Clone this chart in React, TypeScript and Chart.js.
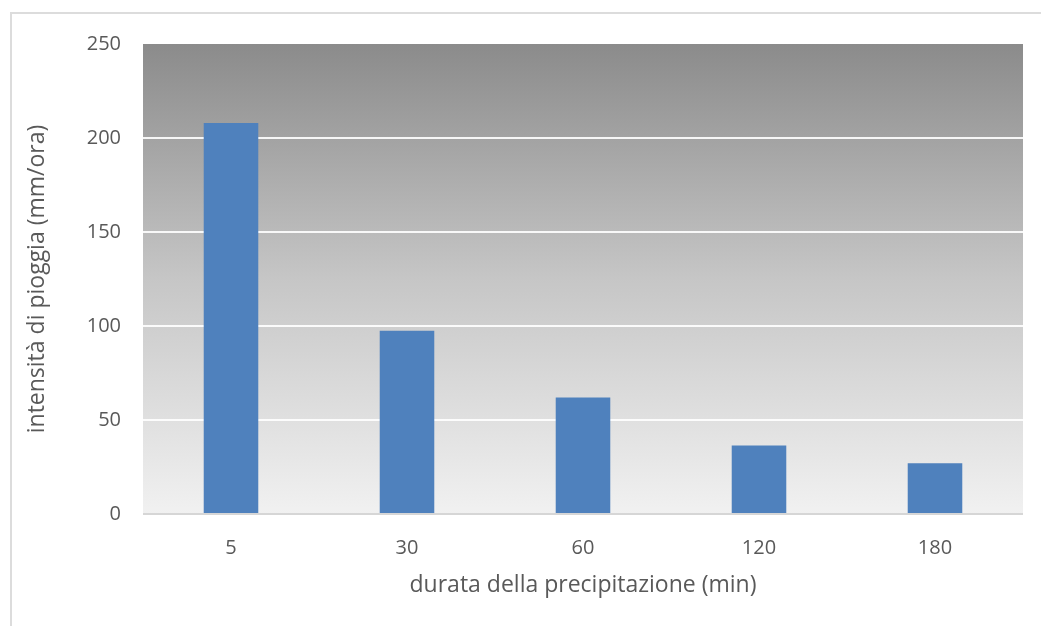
import React, { useEffect, useRef } from "react";
import { Chart, registerables } from "chart.js";

Chart.register(...registerables);

// Rain intensity by storm duration
const durations = ["5", "30", "60", "120", "180"];
const intensities = [208, 97.5, 62, 36.5, 27];
const yTicks = [0, 50, 100, 150, 200, 250];

const xTitle = "durata della precipitazione (min)";
const yTitle = "intensità di pioggia (mm/ora)";

const FONT = "'Open Sans', 'Liberation Sans', sans-serif";
const TEXT = "#595959";

// paints the grey vertical gradient behind the plot area
const plotBackground = {
  id: "plotBackground",
  beforeDraw(chart: any) {
    const { ctx, chartArea } = chart;
    if (!chartArea) return;
    const { left, top, right, bottom } = chartArea;
    const g = ctx.createLinearGradient(0, top, 0, bottom);
    g.addColorStop(0, "#8b8b8b");
    g.addColorStop(0.5, "#c6c6c6");
    g.addColorStop(1, "#f1f1f1");
    ctx.save();
    ctx.fillStyle = g;
    ctx.fillRect(left, top, right - left, bottom - top);
    ctx.restore();
  },
};

export default function App() {
  const ref = useRef<HTMLCanvasElement | null>(null);

  useEffect(() => {
    if (!ref.current) return;
    const chart = new Chart(ref.current, {
      type: "bar",
      data: {
        labels: durations,
        datasets: [
          {
            data: intensities,
            backgroundColor: "#4f81bd",
            borderWidth: 0,
            barPercentage: 0.31,
            categoryPercentage: 1,
          },
        ],
      },
      options: {
        animation: false,
        responsive: false,
        layout: { padding: { left: 20, right: 18, top: 44, bottom: 23 } },
        plugins: { legend: { display: false }, tooltip: { enabled: false } },
        scales: {
          x: {
            grid: { display: false },
            border: { display: false },
            ticks: { color: TEXT, font: { family: FONT, size: 20 }, padding: 14 },
            title: {
              display: true,
              text: xTitle,
              color: TEXT,
              font: { family: FONT, size: 23 },
              padding: { top: 6 },
            },
            afterFit(scale: any) {
              scale.height = 89;
            },
          },
          y: {
            min: 0,
            max: 250,
            afterBuildTicks(scale: any) {
              scale.ticks = yTicks.map((v) => ({ value: v }));
            },
            grid: {
              drawTicks: false,
              lineWidth: 2,
              color: (c: any) =>
                c.tick && c.tick.value === 0
                  ? "#d6d6d6"
                  : c.tick && c.tick.value === 250
                  ? "rgba(0,0,0,0)"
                  : "rgba(255,255,255,0.9)",
            },
            border: { display: false },
            ticks: { color: TEXT, font: { family: FONT, size: 20 }, padding: 22 },
            title: {
              display: true,
              text: yTitle,
              color: TEXT,
              font: { family: FONT, size: 23 },
              padding: { bottom: 4 },
            },
            afterFit(scale: any) {
              scale.width = 123;
            },
          },
        },
      },
      plugins: [plotBackground],
    });
    return () => chart.destroy();
  }, []);

  return (
    <div
      style={{
        position: "absolute",
        left: 0,
        top: 0,
        width: 1041,
        height: 626,
        overflow: "hidden",
        background: "#ffffff",
      }}
    >
      <div
        style={{
          position: "absolute",
          left: 10,
          top: 12,
          width: 1200,
          height: 800,
          border: "2px solid #dcdcdc",
          boxSizing: "border-box",
        }}
      />
      <canvas
        ref={ref}
        width={1041}
        height={626}
        style={{ position: "absolute", left: 0, top: 0 }}
      />
    </div>
  );
}
